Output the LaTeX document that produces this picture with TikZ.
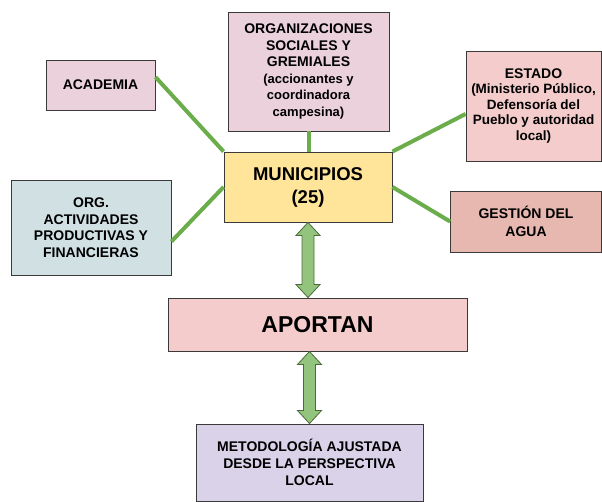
\documentclass[tikz,border=0pt]{standalone}
\usepackage{fontspec}
\setmainfont{Liberation Sans}
\usetikzlibrary{calc}
\definecolor{boxline}{HTML}{3A3A3A}
\definecolor{mauve}{HTML}{EAD1DC}
\definecolor{rosa}{HTML}{F4CCCC}
\definecolor{amarillo}{HTML}{FFE599}
\definecolor{celeste}{HTML}{D0E0E3}
\definecolor{salmon}{HTML}{E6B8AF}
\definecolor{lila}{HTML}{D9D2E9}
\definecolor{linkgreen}{HTML}{6AAD4A}
\definecolor{arrowfill}{HTML}{93C47D}
\definecolor{arrowline}{HTML}{4A6A3A}
\newcommand{\dblarrow}[2]{%
  \draw[dbl] (#1) -- ([shift={(12,13)}]#1) -- ([shift={(6,13)}]#1)
    -- ([shift={(6,-13)}]#2) -- ([shift={(12,-13)}]#2) -- (#2)
    -- ([shift={(-12,-13)}]#2) -- ([shift={(-6,-13)}]#2)
    -- ([shift={(-6,13)}]#1) -- ([shift={(-12,13)}]#1) -- cycle;}
\begin{document}
\begin{tikzpicture}[x=1pt,y=-1pt,
  box/.style={draw=boxline, line width=0.9pt, align=center, inner sep=0pt,
    font=\bfseries\fontsize{14}{16.5}\selectfont},
  small/.style={font=\bfseries\fontsize{13.5}{15.5}\selectfont},
  link/.style={draw=linkgreen, line width=4pt},
  dbl/.style={draw=arrowline, fill=arrowfill, line width=0.8pt, line join=miter}]
\useasboundingbox (0,0) rectangle (602,502);

\node[box, fill=mauve, minimum width=109, minimum height=50] (acad) at (100.5,85) {ACADEMIA};
\node[box, fill=mauve, minimum width=161, minimum height=119] (orgs) at (308.5,71.5)
  {ORGANIZACIONES\\SOCIALES Y\\GREMIALES\\{\fontsize{13}{15.5}\selectfont (accionantes y}\\{\fontsize{13}{15.5}\selectfont coordinadora}\\{\fontsize{13}{15.5}\selectfont campesina)}};
\node[box, small, fill=rosa, minimum width=135, minimum height=110] (estado) at (533.5,106)
  {{\fontsize{14}{15.5}\selectfont ESTADO}\\(Ministerio Público,\\Defensoría del\\Pueblo y autoridad\\local)};
\node[box, fill=amarillo, minimum width=168, minimum height=70,
  font=\bfseries\fontsize{18.5}{23}\selectfont] (muni) at (308,187) {MUNICIPIOS\\(25)};
\node[box, fill=celeste, minimum width=160, minimum height=95] (orgact) at (91,227.5)
  {ORG.\\ACTIVIDADES\\PRODUCTIVAS Y\\FINANCIERAS};
\node[box, fill=salmon, minimum width=151, minimum height=61,
  font=\bfseries\fontsize{14}{18}\selectfont] (gest) at (526,221.5) {GESTIÓN DEL\\AGUA};
\node[box, fill=rosa, minimum width=299, minimum height=53,
  font=\bfseries\fontsize{23}{26}\selectfont] (aport) at (317.5,324.5) {APORTAN};
\node[box, fill=lila, minimum width=227, minimum height=77,
  font=\bfseries\fontsize{14}{17}\selectfont] (metod) at (309.5,462.5)
  {METODOLOGÍA AJUSTADA\\DESDE LA PERSPECTIVA\\LOCAL};

\draw[link] ([yshift=8]acad.east) -- (muni.north west);
\draw[link] (orgs.south) -- (orgs.south |- muni.north);
\draw[link] ([yshift=-8]estado.west) -- (muni.north east);
\draw[link] ([yshift=-14]orgact.east) -- (muni.west);
\draw[link] (gest.west) -- (muni.east);

\coordinate (a1b) at (muni.south |- aport.north);
\dblarrow{muni.south}{a1b}
\coordinate (a2t) at (metod.north |- aport.south);
\dblarrow{a2t}{metod.north}
\end{tikzpicture}
\end{document}
